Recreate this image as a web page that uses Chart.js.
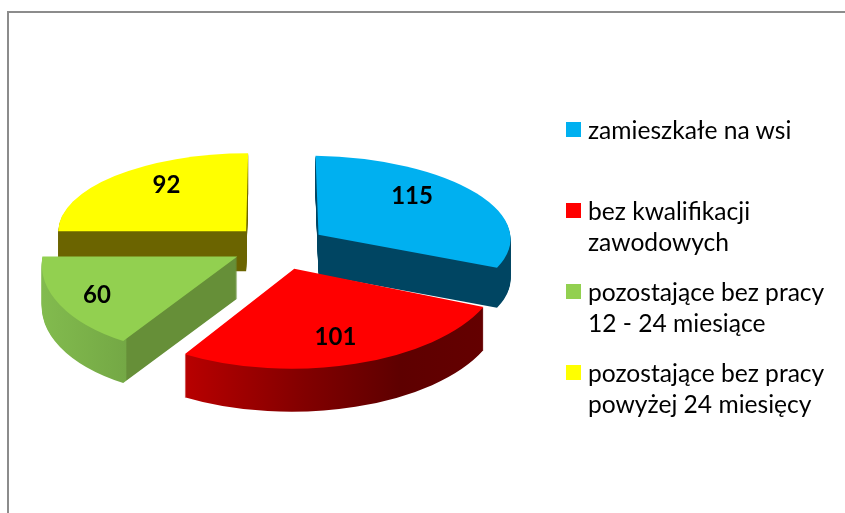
<!DOCTYPE html>
<html>
<head>
<meta charset="utf-8">
<script src="https://cdn.jsdelivr.net/npm/chart.js@4"></script>
<style>
    html, body { margin: 0; background: #fff; }
    #wrap { position: relative; width: 845px; height: 513px; overflow: hidden; }
    #frame { position: absolute; left: 7px; top: 11px; width: 900px; height: 600px; border: 2px solid #8c8c8c; }
    #legend { position: absolute; left: 566px; top: 114px; font: 24.6px/31px Lato, sans-serif; color: #000; }
    .item { position: relative; padding-left: 22px; margin-bottom: 19px; white-space: nowrap; }
    .item i { position: absolute; left: 0; top: 8px; width: 15px; height: 15px; }
    canvas { position: absolute; left: 0; top: 0; }
</style>
</head>
<body>
<div id="wrap">
    <div id="frame"></div>
    <canvas id="chart" width="845" height="513"></canvas>
    <div id="legend"></div>
</div>
<script>
const categories = [
    ['zamieszkałe na wsi', '\u00a0'],
    ['bez kwalifikacji', 'zawodowych'],
    ['pozostające bez pracy', '12 - 24 miesiące'],
    ['pozostające bez pracy', 'powyżej 24 miesięcy']
];
const values = [115, 101, 60, 92];
const colors = ['#00b0f0', '#ff0000', '#92d050', '#ffff00'];

// ellipse of each slice on screen, slices get closer to the viewer so they differ a bit
const tilts = [
    { a: 192, s: 3, t: 3, b: 79, depth: 40, explode: 0.25 },
    { a: 206, s: -3, t: 0, b: 100, depth: 43, explode: 0.25 },
    { a: 195, s: -15, t: 0, b: 99, depth: 42, explode: 0.235 },
    { a: 188, s: -2, t: 0, b: 78, depth: 40, explode: 0.25 }
];
// where the value sits inside the slice, in slice radius units
const labelSpots = [[0.495, -0.506], [0.21, 0.69], [-0.69, 0.39], [-0.43, -0.59]];
// shading of the side walls, left to right in screen pixels
const sides = [
    { from: 300, to: 510, stops: [[0, '#004562'], [1, '#004562']] },
    { from: 185, to: 483, stops: [[0, '#b80000'], [0.4, '#820000'], [0.72, '#5e0000'], [1, '#640000']] },
    { from: 42, to: 237, stops: [[0, '#82bb4e'], [0.43, '#74a845'], [0.435, '#668f38'], [1, '#668f38']] },
    { from: 58, to: 250, stops: [[0, '#6b6400'], [1, '#6b6400']] }
];
const drawOrder = [3, 0, 2, 1];

function applyTilt(ctx, el, tilt) {
    const r = el.outerRadius;
    const mid = (el.startAngle + el.endAngle) / 2;
    ctx.translate(el.x, el.y);
    ctx.transform(tilt.a / r, tilt.t / r, tilt.s / r, tilt.b / r, 0, 0);
    // pull the slice out here, the arc offset option also changes the radius
    ctx.translate(Math.cos(mid) * tilt.explode * r - el.x, Math.sin(mid) * tilt.explode * r - el.y);
}

// gradient running along screen x even when the slice is sheared
function sideGradient(ctx, el, tilt, side) {
    const r = el.outerRadius;
    const mid = (el.startAngle + el.endAngle) / 2;
    const A = tilt.a / r, S = tilt.s / r;
    const n = A * A + S * S;
    const apexX = el.x + (tilt.a * Math.cos(mid) + tilt.s * Math.sin(mid)) * tilt.explode;
    const g = ctx.createLinearGradient(
        el.x + (side.from - apexX) * A / n, el.y + (side.from - apexX) * S / n,
        el.x + (side.to - apexX) * A / n, el.y + (side.to - apexX) * S / n
    );
    side.stops.forEach(st => g.addColorStop(st[0], st[1]));
    return g;
}

const pie3d = {
    id: 'pie3d',
    beforeDatasetDraw(chart) {
        const ctx = chart.ctx;
        const arcs = chart.getDatasetMeta(0).data;
        drawOrder.forEach(i => {
            const el = arcs[i];
            const tilt = tilts[i];
            const wall = Object.create(el);
            wall.options = Object.assign({}, el.options, {
                backgroundColor: sideGradient(ctx, el, tilt, sides[i])
            });
            for (let d = tilt.depth; d > 0; d--) {
                ctx.save();
                ctx.translate(0, d);
                applyTilt(ctx, el, tilt);
                wall.draw(ctx);
                ctx.restore();
            }
            ctx.save();
            applyTilt(ctx, el, tilt);
            el.draw(ctx);
            ctx.restore();
        });
        return false;
    },
    afterDatasetsDraw(chart) {
        const ctx = chart.ctx;
        const arcs = chart.getDatasetMeta(0).data;
        ctx.save();
        ctx.font = 'bold 24px Lato, sans-serif';
        ctx.fillStyle = '#000';
        ctx.textAlign = 'center';
        ctx.textBaseline = 'middle';
        arcs.forEach((el, i) => {
            const tilt = tilts[i];
            const mid = (el.startAngle + el.endAngle) / 2;
            const ux = Math.cos(mid) * tilt.explode + labelSpots[i][0];
            const uy = Math.sin(mid) * tilt.explode + labelSpots[i][1];
            ctx.fillText(values[i], el.x + tilt.a * ux + tilt.s * uy, el.y + tilt.t * ux + tilt.b * uy);
        });
        ctx.restore();
    }
};

new Chart(document.getElementById('chart'), {
    type: 'pie',
    data: {
        labels: categories.map(c => c.join(' ')),
        datasets: [{
            data: values,
            backgroundColor: colors,
            borderWidth: 0,
            radius: 100
        }]
    },
    options: {
        responsive: false,
        animation: false,
        events: [],
        layout: { padding: { right: 287, bottom: 23 } },
        plugins: {
            legend: { display: false },
            tooltip: { enabled: false }
        }
    },
    plugins: [pie3d]
});

// legend
const legend = document.getElementById('legend');
categories.forEach((lines, i) => {
    const item = document.createElement('div');
    item.className = 'item';
    item.innerHTML = `<i style="background:${colors[i]}"></i>${lines.join('<br>')}`;
    legend.appendChild(item);
});
</script>
</body>
</html>
